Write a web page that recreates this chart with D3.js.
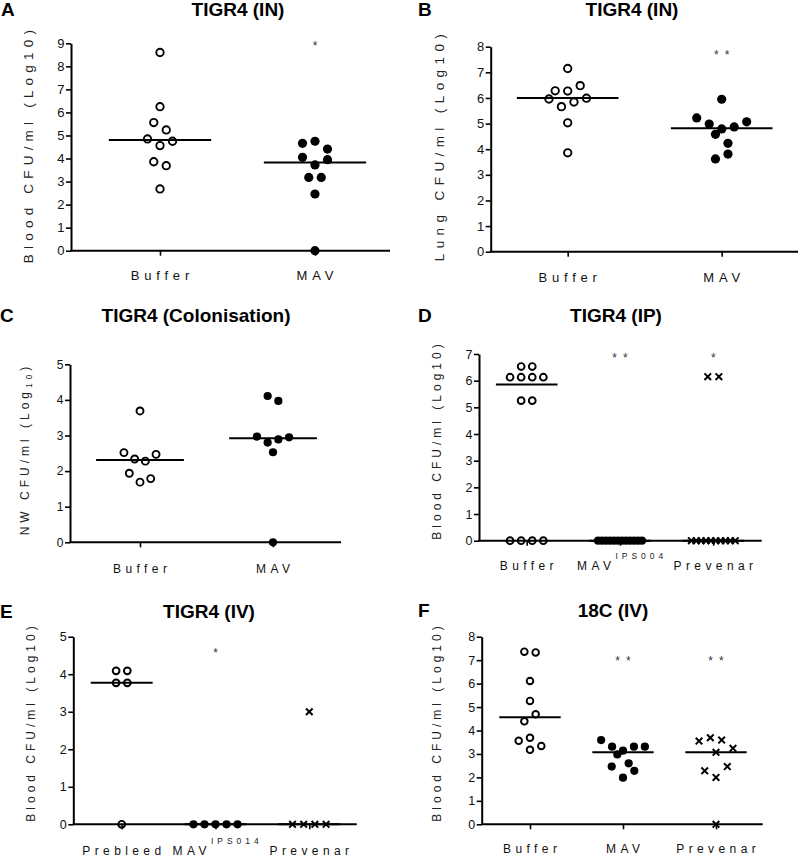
<!DOCTYPE html>
<html><head><meta charset="utf-8">
<script src="https://cdn.jsdelivr.net/npm/d3@7"></script>
<style>body{margin:0;background:#fff}svg{display:block}</style>
</head><body><svg id="c" width="800" height="858"></svg>
<script>
// ---------------- data ----------------
// Panel A – TIGR4 (IN), blood
const catsA = ["Buffer", "MAV"];
const aBuffer = [8.60, 6.25, 5.56, 5.24, 4.85, 4.56, 4.75, 3.86, 3.69, 2.68];
const aMAV = [4.66, 4.75, 4.41, 4.05, 3.72, 3.95, 3.18, 3.18, 2.46, 0];
const aMedians = [4.80, 3.83];
const aStars = ["", "*"];
const aTicks = [0, 1, 2, 3, 4, 5, 6, 7, 8, 9];
// Panel B – TIGR4 (IN), lung
const catsB = ["Buffer", "MAV"];
const bBuffer = [7.15, 6.28, 6.27, 6.48, 5.96, 5.66, 5.84, 5.99, 5.03, 3.86];
const bMAV = [5.95, 5.22, 4.98, 4.79, 4.87, 5.07, 4.58, 4.23, 3.62, 3.81];
const bMedians = [6.00, 4.82];
const bStars = ["", "**"];
const bTicks = [0, 1, 2, 3, 4, 5, 6, 7, 8];
// Panel C – TIGR4 (Colonisation), NW
const catsC = ["Buffer", "MAV"];
const cBuffer = [3.69, 2.52, 2.34, 2.28, 2.47, 1.94, 1.69, 1.79];
const cMAV = [4.11, 3.97, 2.97, 2.80, 2.89, 2.95, 2.53, 0];
const cMedians = [2.31, 2.92];
const cStars = ["", ""];
const cTicks = [0, 1, 2, 3, 4, 5];
// Panel D – TIGR4 (IP), blood
const catsD = ["Buffer", "MAV", "Prevenar"];
const supD = ["", "IPS004", ""];
const dBuffer = [6.53, 6.53, 6.13, 6.13, 6.13, 6.13, 5.25, 5.25, 0, 0, 0, 0];
const dMAV = [0, 0, 0, 0, 0, 0, 0, 0, 0, 0, 0, 0];
const dPrevenar = [6.15, 6.15, 0, 0, 0, 0, 0, 0, 0, 0, 0, 0];
const dMedians = [5.86, 0, 0];
const dStars = ["", "**", "*"];
const dTicks = [0, 1, 2, 3, 4, 5, 6, 7];
// Panel E – TIGR4 (IV), blood
const catsE = ["Prebleed", "MAV", "Prevenar"];
const supE = ["", "IPS014", ""];
const ePrebleed = [4.09, 4.09, 3.77, 3.77, 0];
const eMAV = [0, 0, 0, 0, 0];
const ePrevenar = [3.00, 0, 0, 0, 0];
const eMedians = [3.77, 0, 0];
const eStars = ["", "*", ""];
const eTicks = [0, 1, 2, 3, 4, 5];
// Panel F – 18C (IV), blood
const catsF = ["Buffer", "MAV", "Prevenar"];
const fBuffer = [7.36, 7.33, 6.11, 5.26, 4.39, 4.69, 3.56, 3.69, 3.34, 3.18];
const fMAV = [3.59, 3.31, 3.14, 3.31, 3.31, 2.98, 2.60, 2.46, 1.99, 2.28];
const fPrevenar = [3.55, 3.69, 3.59, 3.24, 3.07, 2.28, 2.00, 2.46, 0];
const fMedians = [4.56, 3.07, 3.07];
const fStars = ["", "**", "**"];
const fTicks = [0, 1, 2, 3, 4, 5, 6, 7, 8];

const titleBlood = ["Blood CFU/ml (Log10)"];
const titleLung = ["Lung CFU/ml (Log10)"];
const titleNW = ["NW CFU/ml (Log", "10", ")"];

// ---------------- layout ----------------
const FONT = '"Liberation Sans", Arial, Helvetica, sans-serif';
const panels = [
  {letter:"A", title:"TIGR4 (IN)", cats:catsA, sup:[], series:[aBuffer, aMAV], sym:["open","filled"], med:aMedians, stars:aStars, ticks:aTicks, yTitle:titleBlood,
   L:71, R:390, T:43.3, B:250.7, c0:160, c1:315, lx:1, tx:238, hy:16, ytx:28, yty:144, starV:9.0, rowH:10.5, sp:12.5, rO:3.7, rF:4.6,
   cfs:13, cls:4.8, tfs:13.5, tls:5.2, tkf:13, catDy:29.5},
  {letter:"B", title:"TIGR4 (IN)", cats:catsB, sup:[], series:[bBuffer, bMAV], sym:["open","filled"], med:bMedians, stars:bStars, ticks:bTicks, yTitle:titleLung,
   L:490.7, R:798, T:46.7, B:251.7, c0:567.7, c1:721.7, lx:418, tx:632, hy:16, ytx:439.5, yty:145, starV:7.8, rowH:11.8, sp:12.5, rO:3.7, rF:4.6,
   cfs:13, cls:4.8, tfs:13.5, tls:5.4, tkf:13, catDy:30},
  {letter:"C", title:"TIGR4 (Colonisation)", cats:catsC, sup:[], series:[cBuffer, cMAV], sym:["open","filled"], med:cMedians, stars:cStars, ticks:cTicks, yTitle:titleNW,
   L:70, R:341, T:364.3, B:542.3, c0:140, c1:273, lx:0, tx:196, hy:321.5, ytx:25, yty:449, starV:5, rowH:10.5, sp:10.7, rO:3.5, rF:4.1,
   cfs:12, cls:4.4, tfs:12, tls:4.0, tkf:12, catDy:30.5},
  {letter:"D", title:"TIGR4 (IP)", cats:catsD, sup:supD, series:[dBuffer, dMAV, dPrevenar], sym:["open","filled","cross"], med:dMedians, stars:dStars, ticks:dTicks, yTitle:titleBlood,
   L:479, R:761.7, T:354, B:540.7, c0:526.7, c1:713.3, lx:418, tx:616, hy:322, ytx:437, yty:440, starV:6.96, rowH:9, sp:11.1, rO:3.4, rF:4.1,
   cfs:12, cls:4.4, tfs:12, tls:4.0, tkf:12.5, catDy:29.5},
  {letter:"E", title:"TIGR4 (IV)", cats:catsE, sup:supE, series:[ePrebleed, eMAV, ePrevenar], sym:["open","filled","cross"], med:eMedians, stars:eStars, ticks:eTicks, yTitle:titleBlood,
   L:73.3, R:356.7, T:636.7, B:824.3, c0:121.7, c1:309.3, lx:0, tx:209, hy:618, ytx:31, yty:722, starV:4.65, rowH:10, sp:11.2, rO:3.4, rF:4.1,
   cfs:12, cls:4.4, tfs:12, tls:4.0, tkf:12.5, catDy:31},
  {letter:"F", title:"18C (IV)", cats:catsF, sup:[], series:[fBuffer, fMAV, fPrevenar], sym:["open","filled","cross"], med:fMedians, stars:fStars, ticks:fTicks, yTitle:titleBlood,
   L:481.7, R:762.7, T:636.7, B:824.3, c0:530, c1:716, lx:418, tx:613, hy:617, ytx:437, yty:722, starV:7.1, rowH:11.5, sp:11.3, rO:3.3, rF:4.1,
   cfs:12, cls:4.4, tfs:12, tls:4.0, tkf:12.5, catDy:28.5}
];

// horizontal spreading of overlapping points (rows, symmetric)
function spread(vals, y, rowH, sp, maxW) {
  const idx = vals.map((v, i) => i).sort((a, b) => (vals[b] - vals[a]) || (a - b));
  const off = new Array(vals.length).fill(0);
  let k = 0;
  while (k < idx.length) {
    const top = y(vals[idx[k]]);
    const row = [];
    while (k < idx.length && y(vals[idx[k]]) - top <= rowH) { row.push(idx[k]); k++; }
    row.sort((a, b) => a - b);
    const n = row.length;
    const s = n > 1 ? Math.min(sp, maxW / (n - 1)) : 0;
    row.forEach((j, m) => { off[j] = (m - (n - 1) / 2) * s; });
  }
  return off;
}

const svg = d3.select("#c");

panels.forEach(p => {
  const g = svg.append("g").attr("font-family", FONT);
  const yMax = p.ticks[p.ticks.length - 1];
  const y = d3.scaleLinear().domain([0, yMax]).range([p.B, p.T]);
  const x = d3.scalePoint().domain(p.cats).range([p.c0, p.c1]);
  const step = x.step();

  // panel letter + title
  g.append("text").attr("x", p.lx).attr("y", p.hy).attr("font-size", 19).attr("font-weight", "bold").attr("fill", "#000").text(p.letter);
  g.append("text").attr("x", p.tx).attr("y", p.hy).attr("text-anchor", "middle").attr("font-size", 19).attr("font-weight", "bold").attr("fill", "#000").text(p.title);

  // y axis
  const ya = g.append("g").attr("transform", `translate(${p.L},0)`)
    .call(d3.axisLeft(y).tickValues(p.ticks).tickSize(5).tickSizeOuter(0).tickPadding(1.5).tickFormat(d3.format("d")));
  ya.attr("color", "#000");
  ya.select(".domain").attr("stroke-width", 2);
  ya.selectAll(".tick line").attr("stroke-width", 1.6);
  ya.selectAll(".tick text").attr("font-size", p.tkf).attr("font-family", FONT).attr("fill", "#111");

  // x axis base line + category ticks
  g.append("line").attr("x1", p.L - 0.5).attr("x2", p.R).attr("y1", y(0)).attr("y2", y(0))
    .attr("stroke", "#000").attr("stroke-width", 2);
  const xa = g.append("g").attr("transform", `translate(0,${y(0)})`)
    .call(d3.axisBottom(x).tickSize(5).tickSizeOuter(0).tickFormat(""));
  xa.attr("color", "#000");
  xa.select(".domain").remove();
  xa.selectAll(".tick line").attr("stroke-width", 1.6);

  // category labels
  p.cats.forEach((c, i) => {
    const t = g.append("text").attr("x", x(c) + p.cls / 2).attr("y", y(0) + p.catDy)
      .attr("text-anchor", "middle").attr("font-size", p.cfs).attr("letter-spacing", p.cls).attr("fill", "#111").text(c);
    if (p.sup[i]) {
      t.append("tspan").attr("font-size", 8.5).attr("letter-spacing", 4).attr("fill", "#222").attr("dy", -11).text(p.sup[i]);
    }
  });

  // y axis title
  const yt = g.append("text").attr("transform", `translate(${p.ytx},${p.yty}) rotate(-90)`)
    .attr("text-anchor", "middle").attr("dy", "0.36em").attr("font-size", p.tfs)
    .attr("letter-spacing", p.tls).attr("fill", "#222");
  p.yTitle.forEach((s, i) => {
    const ts = yt.append("tspan").text(s);
    if (i === 1) ts.attr("font-size", p.tfs * 0.7).attr("dy", 3);
    if (i === 2) ts.attr("dy", -3);
  });

  // medians
  p.med.forEach((m, i) => {
    const cx = x(p.cats[i]);
    g.append("line").attr("x1", cx - step * 0.33).attr("x2", cx + step * 0.33)
      .attr("y1", y(m)).attr("y2", y(m)).attr("stroke", "#000").attr("stroke-width", 2);
  });

  // points
  p.series.forEach((vals, i) => {
    const cx = x(p.cats[i]);
    const off = spread(vals, y, p.rowH, p.sp, step * 0.47);
    const kind = p.sym[i];
    vals.forEach((v, j) => {
      const px = cx + off[j], py = y(v);
      if (kind === "open") {
        g.append("circle").attr("cx", px).attr("cy", py).attr("r", p.rO)
          .attr("fill", "none").attr("stroke", "#000").attr("stroke-width", 1.9);
      } else if (kind === "filled") {
        g.append("circle").attr("cx", px).attr("cy", py).attr("r", p.rF).attr("fill", "#000");
      } else {
        const a = 3.3;
        g.append("path").attr("d", `M${px - a},${py - a}L${px + a},${py + a}M${px - a},${py + a}L${px + a},${py - a}`)
          .attr("stroke", "#000").attr("stroke-width", 2).attr("fill", "none");
      }
    });
  });

  // significance stars
  p.stars.forEach((s, i) => {
    if (!s) return;
    g.append("text").attr("x", x(p.cats[i]) + (s.length > 1 ? 3 : 0)).attr("y", y(p.starV) + 7)
      .attr("text-anchor", "middle").attr("font-size", 12).attr("letter-spacing", s.length > 1 ? 6 : 0)
      .attr("fill", "#333").text(s);
  });
});
</script>
</body></html>
